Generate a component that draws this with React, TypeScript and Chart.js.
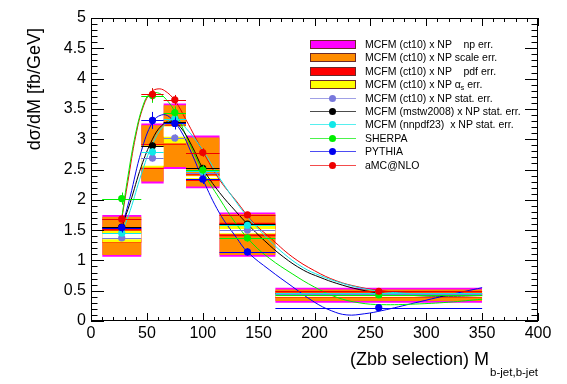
import React, { useEffect, useRef } from "react";
import { Chart, registerables } from "chart.js";
Chart.register(...registerables);

// ---------- data ----------
const binEdges = [10, 45, 65, 85, 115, 165, 350];
const binCenters = [27.5, 55, 75, 100, 140, 257.5];

// MCFM (ct10) x NP uncertainty bands per bin
const npLo = [1.06, 2.27, 2.51, 2.19, 1.06, 0.30];
const npHi = [1.75, 3.26, 3.59, 3.06, 1.79, 0.55];
const scaleLo = [1.09, 2.30, 2.54, 2.22, 1.09, 0.33];
const scaleHi = [1.72, 3.23, 3.56, 3.03, 1.76, 0.52];
const pdfLo = [1.29, 2.51, 2.91, 2.31, 1.40, 0.38];
const pdfHi = [1.52, 2.92, 3.24, 2.42, 1.62, 0.47];
const asLo = [1.30, 2.53, 2.93, 2.33, 1.43, 0.39];
const asHi = [1.49, 2.90, 3.22, 2.40, 1.58, 0.46];
const centLo = [1.35, 2.56, 3.04, 2.36, 1.45, 0.40];
const centHi = [1.45, 2.88, 3.21, 2.39, 1.52, 0.43];

// points (bin centres) and stat. errors
const ct10Stat = [1.37, 2.69, 3.02, 2.45, 1.50, 0.45];
const ct10Err = [0.05, 0.06, 0.06, 0.05, 0.04, 0.02];
const mstwStat = [1.55, 2.89, 3.28, 2.52, 1.60, 0.47];
const mstwErr = [0.05, 0.06, 0.06, 0.05, 0.04, 0.02];
const nnpdfStat = [1.45, 2.79, 3.34, 2.47, 1.58, 0.46];
const nnpdfErr = [0.05, 0.06, 0.06, 0.05, 0.04, 0.02];
const sherpa = [2.02, 3.72, 3.44, 2.49, 1.37, 0.43];
const sherpaErr = [0.10, 0.12, 0.10, 0.08, 0.06, 0.03];
const pythia = [1.54, 3.31, 3.26, 2.34, 1.14, 0.22];
const pythiaErr = [0.08, 0.14, 0.10, 0.08, 0.06, 0.03];
const amcnlo = [1.68, 3.74, 3.65, 2.78, 1.75, 0.49];
const amcnloErr = [0.08, 0.10, 0.08, 0.07, 0.05, 0.03];

// fitted curves
const amcCurveX = [27.5, 33, 40, 47, 54, 60, 66, 75, 85, 100, 115, 130, 145, 160, 180, 200, 220, 240, 260, 290, 320, 350];
const amcCurveY = [1.68, 2.30, 3.05, 3.55, 3.78, 3.83, 3.80, 3.64, 3.32, 2.80, 2.33, 1.98, 1.63, 1.38, 1.06, 0.83, 0.66, 0.56, 0.50, 0.45, 0.43, 0.43];
const sherpaCurveX = [27.5, 33, 40, 47, 52, 58, 64, 75, 85, 100, 115, 130, 145, 160, 180, 200, 220, 240, 260, 290, 320, 350];
const sherpaCurveY = [1.70, 2.38, 3.10, 3.58, 3.74, 3.77, 3.72, 3.46, 3.06, 2.47, 2.02, 1.60, 1.27, 1.03, 0.78, 0.56, 0.39, 0.30, 0.27, 0.28, 0.31, 0.36];
const mstwCurveX = [27.5, 35, 45, 55, 63, 72, 80, 90, 100, 115, 130, 140, 155, 172, 190, 205, 220, 240, 260, 290, 320, 350];
const mstwCurveY = [1.55, 1.95, 2.55, 3.00, 3.22, 3.30, 3.20, 2.90, 2.52, 2.12, 1.80, 1.60, 1.33, 1.06, 0.84, 0.72, 0.62, 0.52, 0.46, 0.42, 0.41, 0.42];
const nnpdfCurveX = [27.5, 35, 45, 55, 65, 75, 85, 100, 115, 130, 140, 155, 172, 190, 205, 220, 240, 260, 290, 320, 350];
const nnpdfCurveY = [1.45, 1.82, 2.42, 2.92, 3.22, 3.33, 3.18, 2.82, 2.36, 1.96, 1.72, 1.42, 1.12, 0.88, 0.75, 0.65, 0.55, 0.49, 0.45, 0.44, 0.44];
const pythiaCurveX = [27.5, 35, 45, 55, 63, 70, 80, 90, 100, 115, 130, 140, 160, 180, 200, 215, 229, 245, 260, 290, 320, 350];
const pythiaCurveY = [1.54, 2.05, 2.80, 3.28, 3.40, 3.37, 3.15, 2.77, 2.34, 1.78, 1.38, 1.14, 0.84, 0.57, 0.31, 0.17, 0.10, 0.12, 0.17, 0.30, 0.43, 0.55];

// axis
const xMin = 0, xMax = 400, xMajor = 50, xMinor = 10;
const yMin = 0, yMax = 5, yMajor = 0.5, yMinor = 0.1;

// colours
const C = {
  np: "#ff00ff", scale: "#ff8c00", pdf: "#ff0000", as: "#ffff00", cent: "#ffffff",
  ct10: "#7878dc", mstw: "#000000", nnpdf: "#10e8e8", sherpa: "#00ee00", pythia: "#0000ee", amc: "#ee0000",
};

const FONT = '"Liberation Sans", Arial, Helvetica, sans-serif';

function stepPts(vals: number[]) {
  const pts = vals.map((v, i) => ({ x: binEdges[i], y: v }));
  pts.push({ x: binEdges[binEdges.length - 1], y: vals[vals.length - 1] });
  return pts;
}
function band(label: string, lo: number[], hi: number[], color: string, order: number) {
  return [
    { label: label + "_hi", data: stepPts(hi), stepped: true, fill: "+1", backgroundColor: color, borderWidth: 0, pointRadius: 0, order },
    { label: label + "_lo", data: stepPts(lo), stepped: true, fill: false, borderWidth: 0, pointRadius: 0, order },
  ];
}
function curve(label: string, xs: number[], ys: number[], color: string) {
  return { label, data: xs.map((x, i) => ({ x, y: ys[i] })), borderColor: color, borderWidth: 1, pointRadius: 0, tension: 0.4, fill: false, order: 30 };
}
function points(label: string, ys: number[], err: number[], color: string, order: number) {
  return {
    label, data: binCenters.map((x, i) => ({ x, y: ys[i] })), showLine: false, pointRadius: 3.6,
    pointBackgroundColor: color, pointBorderColor: color, pointBorderWidth: 0, errY: err, errColor: color, order,
  };
}

const errorBars = {
  id: "errorBars",
  beforeDatasetDraw(chart: any, args: any) {
    const ds = chart.data.datasets[args.index];
    if (!ds.errY) return;
    const { ctx, scales: { x, y } } = chart;
    ctx.save();
    ctx.strokeStyle = ds.errColor;
    ctx.lineWidth = 1;
    ctx.beginPath();
    ds.data.forEach((p: any, i: number) => {
      const py = Math.round(y.getPixelForValue(p.y)) + 0.5;
      ctx.moveTo(x.getPixelForValue(binEdges[i]), py);
      ctx.lineTo(x.getPixelForValue(binEdges[i + 1]), py);
      const px = Math.round(x.getPixelForValue(p.x)) + 0.5;
      ctx.moveTo(px, y.getPixelForValue(p.y - ds.errY[i]));
      ctx.lineTo(px, y.getPixelForValue(p.y + ds.errY[i]));
    });
    ctx.stroke();
    ctx.restore();
  },
};

const frameTicks = {
  id: "frameTicks",
  afterDraw(chart: any) {
    const { ctx, chartArea: a, scales: { x, y } } = chart;
    ctx.save();
    ctx.strokeStyle = "#000";
    ctx.lineWidth = 1;
    ctx.beginPath();
    const nx = Math.round((xMax - xMin) / xMinor);
    for (let i = 0; i <= nx; i++) {
      const v = xMin + i * xMinor;
      const px = Math.round(x.getPixelForValue(v)) + 0.5;
      const len = i % Math.round(xMajor / xMinor) === 0 ? 8 : 4;
      ctx.moveTo(px, a.bottom); ctx.lineTo(px, a.bottom - len);
      ctx.moveTo(px, a.top); ctx.lineTo(px, a.top + len);
    }
    const ny = Math.round((yMax - yMin) / yMinor);
    for (let i = 0; i <= ny; i++) {
      const v = yMin + i * yMinor;
      const py = Math.round(y.getPixelForValue(v)) + 0.5;
      const len = i % Math.round(yMajor / yMinor) === 0 ? 13 : 6.5;
      ctx.moveTo(a.left, py); ctx.lineTo(a.left + len, py);
      ctx.moveTo(a.right, py); ctx.lineTo(a.right - len, py);
    }
    ctx.stroke();
    ctx.strokeRect(Math.round(a.left) + 0.5, Math.round(a.top) + 0.5, Math.round(a.right - a.left) - 1, Math.round(a.bottom - a.top) - 1);
    ctx.restore();
  },
};

const legendRows = [
  { kind: "box", color: C.np, text: "MCFM (ct10) x NP    np err." },
  { kind: "box", color: C.scale, text: "MCFM (ct10) x NP scale err." },
  { kind: "box", color: C.pdf, text: "MCFM (ct10) x NP    pdf err." },
  { kind: "box", color: C.as, text: "MCFM (ct10) x NP ", alpha: true },
  { kind: "line", color: C.ct10, text: "MCFM (ct10) x NP stat. err." },
  { kind: "line", color: C.mstw, text: "MCFM (mstw2008) x NP stat. err." },
  { kind: "line", color: C.nnpdf, text: "MCFM (nnpdf23)  x NP stat. err." },
  { kind: "line", color: C.sherpa, text: "SHERPA" },
  { kind: "line", color: C.pythia, text: "PYTHIA" },
  { kind: "line", color: C.amc, text: "aMC@NLO" },
];

export default function App() {
  const ref = useRef<HTMLCanvasElement>(null);
  useEffect(() => {
    const datasets: any[] = [
      ...band("np", npLo, npHi, C.np, 100),
      ...band("scale", scaleLo, scaleHi, C.scale, 90),
      ...band("pdf", pdfLo, pdfHi, C.pdf, 80),
      ...band("as", asLo, asHi, C.as, 70),
      ...band("cent", centLo, centHi, C.cent, 60),
      curve("nnpdfFit", nnpdfCurveX, nnpdfCurveY, C.nnpdf),
      curve("mstwFit", mstwCurveX, mstwCurveY, C.mstw),
      curve("sherpaFit", sherpaCurveX, sherpaCurveY, C.sherpa),
      curve("pythiaFit", pythiaCurveX, pythiaCurveY, C.pythia),
      curve("amcFit", amcCurveX, amcCurveY, C.amc),
      points("MCFM (ct10) x NP stat. err.", ct10Stat, ct10Err, C.ct10, 16),
      points("MCFM (mstw2008) x NP stat. err.", mstwStat, mstwErr, C.mstw, 15),
      points("MCFM (nnpdf23) x NP stat. err.", nnpdfStat, nnpdfErr, C.nnpdf, 14),
      points("SHERPA", sherpa, sherpaErr, C.sherpa, 13),
      points("PYTHIA", pythia, pythiaErr, C.pythia, 12),
      points("aMC@NLO", amcnlo, amcnloErr, C.amc, 11),
    ];
    const chart = new Chart(ref.current!, {
      type: "line",
      data: { datasets },
      options: {
        responsive: false,
        animation: false,
        layout: { padding: { left: 0, top: 18, right: 29, bottom: 0 } },
        plugins: { legend: { display: false }, tooltip: { enabled: false } },
        scales: {
          x: {
            type: "linear", min: xMin, max: xMax,
            grid: { display: false, drawTicks: false }, border: { display: false },
            ticks: { stepSize: xMajor, color: "#000", padding: 3, maxRotation: 0, font: { family: FONT, size: 16 } },
            afterFit: (s: any) => { s.height = 63; },
          },
          y: {
            type: "linear", min: yMin, max: yMax,
            grid: { display: false, drawTicks: false }, border: { display: false },
            ticks: { stepSize: yMajor, color: "#000", padding: 5, font: { family: FONT, size: 16 },
              callback: (v: any) => String(Math.round(Number(v) * 10) / 10) },
            afterFit: (s: any) => { s.width = 91; },
          },
        },
      } as any,
      plugins: [errorBars, frameTicks],
    });
    return () => chart.destroy();
  }, []);

  return (
    <div style={{ position: "fixed", left: 0, top: 0, width: 567, height: 384, background: "#fff", fontFamily: FONT, overflow: "hidden" }}>
      <canvas ref={ref} width={567} height={384} style={{ position: "absolute", left: 0, top: 0 }} />
      {/* y title */}
      <div style={{ position: "absolute", left: 24 - 200, top: 28, width: 200, height: 20, lineHeight: "20px", fontSize: 18, textAlign: "right", whiteSpace: "nowrap", transformOrigin: "top right", transform: "rotate(-90deg)", color: "#000" }}>
        dσ/dM [fb/GeV]
      </div>
      {/* x title */}
      <div style={{ position: "absolute", right: 29, top: 349, fontSize: 18, lineHeight: "20px", whiteSpace: "nowrap", color: "#000" }}>
        (Zbb selection) M<span style={{ fontSize: 11.5, position: "relative", top: 11, marginLeft: 1 }}>b-jet,b-jet</span>
      </div>
      {/* legend */}
      <div style={{ position: "absolute", left: 308, top: 38 }}>
        {legendRows.map((r, i) => (
          <div key={i} style={{ position: "absolute", left: 0, top: i * 13.4, height: 13, width: 240, fontSize: 10.5, lineHeight: "13px", whiteSpace: "pre", color: "#000" }}>
            {r.kind === "box" ? (
              <div style={{ position: "absolute", left: 2, top: 2, width: 44, height: 7, background: r.color, border: "1px solid #6a2a2a" }} />
            ) : (
              <>
                <div style={{ position: "absolute", left: 2, top: 6, width: 46, height: 1, background: r.color, opacity: 0.7 }} />
                <div style={{ position: "absolute", left: 21, top: 3, width: 7, height: 7, borderRadius: 4, background: r.color }} />
              </>
            )}
            <span style={{ position: "absolute", left: 57, top: 0 }}>
              {r.text}
              {r.alpha ? (<>α<sub style={{ fontSize: 7, verticalAlign: "-2px" }}>s</sub> err.</>) : null}
            </span>
          </div>
        ))}
      </div>
    </div>
  );
}
